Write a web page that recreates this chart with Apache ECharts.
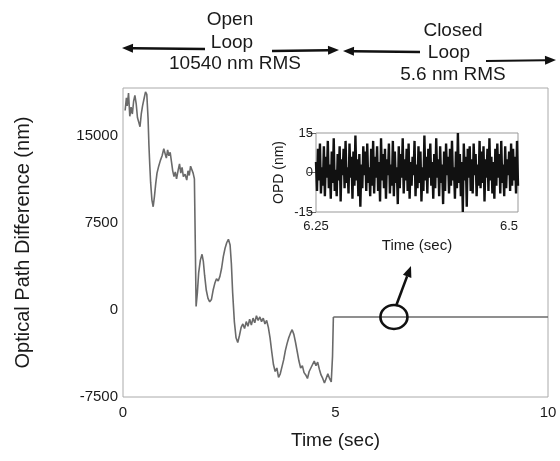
<!DOCTYPE html>
<html><head><meta charset="utf-8">
<script src="https://cdn.jsdelivr.net/npm/echarts@6/dist/echarts.min.js"></script>
<style>html,body{margin:0;padding:0;background:#fff}#c{width:560px;height:461px}</style>
</head><body><div id="c"></div>
<script>
// ---- data: [time (s), OPD (nm)] ----
const openLoopPoints = [
[0.05,17200],[0.08,18300],[0.10,17600],[0.13,18700],[0.16,16700],[0.19,17500],[0.22,16900],[0.25,18000],
[0.28,18500],[0.31,17800],[0.34,16600],[0.37,16200],[0.40,15800],[0.43,16900],[0.46,17600],[0.50,18300],
[0.53,18800],[0.56,18600],[0.59,16500],[0.61,14200],[0.63,12500],[0.65,11000],[0.68,9500],[0.71,8900],
[0.74,9800],[0.77,10900],[0.80,11800],[0.84,12400],[0.88,12900],[0.92,13300],[0.96,13900],[0.99,13500],
[1.02,13100],[1.05,13800],[1.08,13300],[1.11,13600],[1.14,12800],[1.17,12000],[1.20,11500],[1.23,11900],
[1.26,11300],[1.30,12100],[1.33,12600],[1.36,11800],[1.39,12300],[1.42,11500],[1.46,11700],[1.50,11200],
[1.53,12000],[1.56,11600],[1.59,12400],[1.62,12300],[1.65,11800],[1.68,11300],[1.70,6000],[1.72,300],
[1.75,1500],[1.78,3200],[1.82,4300],[1.86,4800],[1.89,4200],[1.92,3000],[1.96,1700],[2.00,1000],
[2.04,700],[2.08,900],[2.12,1700],[2.16,2300],[2.20,2700],[2.24,2500],[2.28,2900],[2.32,3600],
[2.36,4600],[2.40,5300],[2.44,5800],[2.48,6100],[2.52,5600],[2.55,4000],[2.58,1500],[2.62,-1000],
[2.66,-2400],[2.70,-2800],[2.74,-2200],[2.78,-1500],[2.82,-1200],[2.86,-1600],[2.90,-1000],[2.94,-1400],
[2.98,-800],[3.02,-1300],[3.06,-700],[3.10,-1100],[3.14,-500],[3.18,-900],[3.22,-600],[3.26,-1000],
[3.30,-700],[3.34,-1200],[3.38,-900],[3.42,-1500],[3.46,-2400],[3.50,-3600],[3.54,-4700],[3.58,-5300],
[3.62,-5000],[3.66,-5800],[3.70,-5500],[3.74,-4900],[3.78,-4300],[3.82,-3500],[3.86,-2900],[3.90,-2400],
[3.94,-2000],[3.98,-1700],[4.02,-2100],[4.06,-2800],[4.10,-3600],[4.14,-4400],[4.18,-5000],[4.22,-4800],
[4.26,-5400],[4.30,-5600],[4.34,-5900],[4.38,-5300],[4.42,-5000],[4.46,-4700],[4.50,-4400],[4.54,-4800],
[4.58,-4500],[4.62,-5100],[4.66,-5600],[4.70,-5900],[4.74,-6300],[4.78,-5900],[4.82,-5500],[4.86,-5900],
[4.90,-6200],[4.93,-4000],[4.95,-600]];
const closedLoopPoints = [[4.95,-600],[10,-600]];
const zoomTime = 6.375, zoomOPD = -600;   // circled closed-loop region
const insetStart = 6.25, insetEnd = 6.5;
const insetOPD = [4,-7,9,-3,11,-8,2,-5,10,-9,6,-2,12,-6,3,-10,8,-4,13,-7,
1,-9,7,-3,10,-11,5,-1,9,-6,12,-4,2,-8,11,-2,6,-10,8,-5,
14,-3,5,-9,7,-13,3,-6,10,-1,8,-7,11,-4,2,-9,9,-5,12,-8,
6,-2,10,-7,4,-11,13,-3,7,-6,9,-10,5,-1,11,-8,3,-5,12,-9,
8,-4,2,-12,10,-6,7,-2,13,-8,5,-3,9,-7,11,-10,4,-5,6,-1,
12,-9,3,-6,10,-4,8,-11,2,-7,14,-3,6,-8,9,-2,11,-5,4,-10,
7,-6,13,-2,5,-9,10,-4,3,-12,8,-7,11,-1,6,-8,9,-5,12,-3,
2,-10,8,-6,15,-4,7,-9,4,-15,11,-3,6,-13,9,-2,10,-7,5,-8,
11,-1,7,-9,3,-5,12,-6,8,-4,10,-11,5,-2,9,-7,13,-3,6,-8,
4,-10,9,-5,11,-2,7,-8,12,-4,3,-9,10,-6,5,-1,8,-7,11,-5,
9,-3,6,-8,12,-5];
const mainXTicks = {min:0, max:10, step:5};
const mainYTicks = {min:-7500, max:19140, step:7500};
const insetYTicks = {min:-15, max:15, step:15};
const openText = ['Open','Loop','10540 nm RMS'];
const closedText = ['Closed','Loop','5.6 nm RMS'];

// ---- chart ----
const FONT = 'Liberation Sans, Arial, sans-serif';
const TXT = '#1a1a1a';
const chart = echarts.init(document.getElementById('c'), null, {renderer:'canvas'});

const dt = (insetEnd-insetStart)/(insetOPD.length-1);
const insetData = insetOPD.map((v,i)=>[insetStart+i*dt, v]);

function arrow(x1,y1,x2,y2,w){ // arrow head at (x2,y2)
  const a = Math.atan2(y2-y1,x2-x1), L=11, H=4.5;
  const bx = x2-L*Math.cos(a), by = y2-L*Math.sin(a);
  return [
    {type:'line', shape:{x1:x1,y1:y1,x2:bx,y2:by}, style:{stroke:'#111', lineWidth:w||2.5}, z:10},
    {type:'polygon', shape:{points:[[x2,y2],[bx+H*Math.sin(a),by-H*Math.cos(a)],[bx-H*Math.sin(a),by+H*Math.cos(a)]]}, style:{fill:'#111'}, z:10}
  ];
}
function textLines(lines, xs, ys){
  return lines.map((s,i)=>({type:'text', x:xs[i], y:ys[i], style:{text:s, font:'19px '+FONT, fill:TXT, align:'center', verticalAlign:'middle'}, z:10}));
}

const graphic = [].concat(
  textLines(openText,[230,232,235],[20,43,64]),
  textLines(closedText,[453,449,453],[31,53,75]),
  arrow(205,49,122,48),
  arrow(272,51,339,50),
  arrow(420,52,343,51),
  arrow(486,61,556,60,2),
  arrow(396,306,411,266,2.5)
);

chart.setOption({
  animation:false,
  backgroundColor:'#fff',
  textStyle:{fontFamily:FONT},
  graphic: graphic,
  grid:[
    {left:123, right:12, top:88, bottom:64, show:true, borderColor:'#aaa', borderWidth:1, backgroundColor:'transparent'},
    {left:316, right:42, top:133, bottom:249, show:true, borderColor:'#999', borderWidth:1, backgroundColor:'#fff', z:5}
  ],
  xAxis:[
    {gridIndex:0, type:'value', min:mainXTicks.min, max:mainXTicks.max, interval:mainXTicks.step,
     axisLine:{show:false}, axisTick:{show:false}, splitLine:{show:false},
     axisLabel:{fontSize:15, color:TXT, margin:8},
     name:'Time (sec)', nameLocation:'middle', nameGap:34, nameTextStyle:{fontSize:19, color:TXT}},
    {gridIndex:1, type:'value', min:insetStart, max:insetEnd, interval:insetEnd-insetStart,
     axisLine:{show:false}, axisTick:{show:false}, splitLine:{show:false},
     axisLabel:{fontSize:13, color:TXT, margin:8, alignMaxLabel:'right', formatter:v=>String(+v.toFixed(2))},
     name:'Time (sec)', nameLocation:'middle', nameGap:26, nameTextStyle:{fontSize:15, color:TXT}, z:6}
  ],
  yAxis:[
    {gridIndex:0, type:'value', min:mainYTicks.min, max:mainYTicks.max, interval:mainYTicks.step,
     axisLine:{show:false}, axisTick:{show:false}, splitLine:{show:false},
     axisLabel:{fontSize:15, color:TXT, margin:5, showMaxLabel:false, formatter:v=>String(v)},
     name:'Optical Path Difference (nm)', nameLocation:'middle', nameGap:90, nameRotate:90,
     nameTextStyle:{fontSize:20, color:TXT}},
    {gridIndex:1, type:'value', min:insetYTicks.min, max:insetYTicks.max, interval:insetYTicks.step,
     axisLine:{show:false}, axisTick:{show:true, inside:false, length:8, lineStyle:{color:'#666'}}, splitLine:{show:false},
     axisLabel:{fontSize:13, color:TXT, margin:3},
     name:'OPD (nm)', nameLocation:'middle', nameGap:30, nameRotate:90,
     nameTextStyle:{fontSize:14, color:TXT}, z:6}
  ],
  series:[
    {type:'line', xAxisIndex:0, yAxisIndex:0, data:openLoopPoints, showSymbol:false,
     lineStyle:{color:'#6a6a6a', width:1.6}},
    {type:'line', xAxisIndex:0, yAxisIndex:0, data:closedLoopPoints, showSymbol:false,
     lineStyle:{color:'#6a6a6a', width:1.6},
     markPoint:{symbol:'circle', symbolSize:[27,24], silent:true,
       itemStyle:{color:'rgba(0,0,0,0)', borderColor:'#111', borderWidth:2.5},
       label:{show:false}, data:[{coord:[zoomTime, zoomOPD]}]}},
    {type:'line', xAxisIndex:1, yAxisIndex:1, data:insetData, showSymbol:false, z:6,
     lineStyle:{color:'#111', width:2.4}}
  ]
});
</script></body></html>
